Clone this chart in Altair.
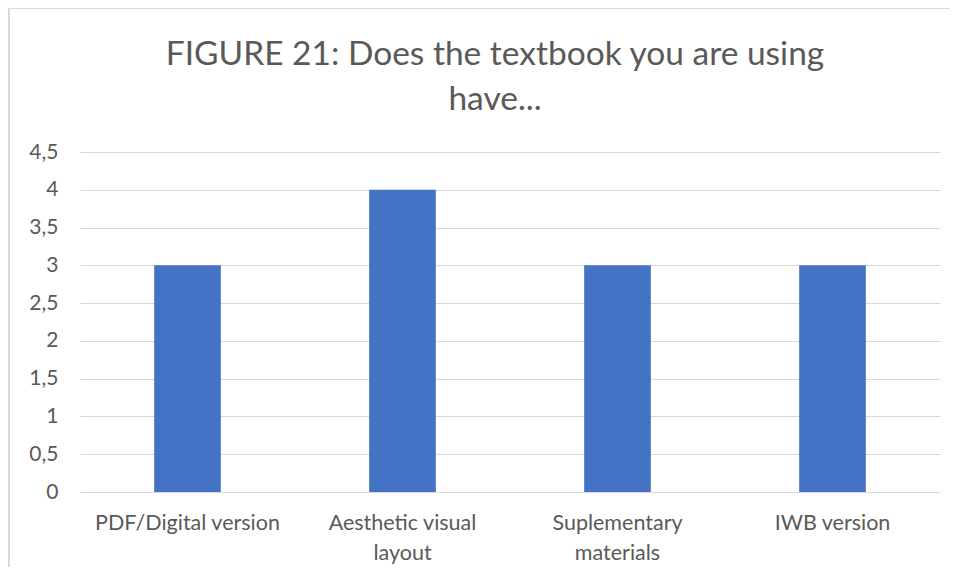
import altair as alt
import pandas as pd

categories = ["PDF/Digital version", "Aesthetic visual layout", "Suplementary materials", "IWB version"]
values = [3, 4, 3, 3]
label_lines = {
    "PDF/Digital version": ["PDF/Digital version"],
    "Aesthetic visual layout": ["Aesthetic visual", "layout"],
    "Suplementary materials": ["Suplementary", "materials"],
    "IWB version": ["IWB version"],
}
y_ticks = [0, 0.5, 1, 1.5, 2, 2.5, 3, 3.5, 4, 4.5]
title_lines = ["FIGURE 21: Does the textbook you are using", "have..."]

df = pd.DataFrame({"category": categories, "value": values})

parts = []
for k, v in label_lines.items():
    arr = "[" + ",".join("'" + s + "'" for s in v) + "]"
    parts.append(f"datum.label == '{k}' ? {arr} : ")
label_expr = "".join(parts) + "datum.label"

FONT = "Lato"
GREY = "#595959"

bars = alt.Chart(df).mark_bar(color="#4472C4").encode(
    x=alt.X("category:N", sort=categories, title=None,
            scale=alt.Scale(paddingInner=0.69, paddingOuter=0.345),
            axis=alt.Axis(labelAngle=0, labelExpr=label_expr, labelFontSize=21.5,
                          labelColor=GREY, labelFont=FONT, ticks=False, domain=False,
                          labelPadding=20, labelLineHeight=30, grid=False,
                          labelLimit=400)),
    y=alt.Y("value:Q", title=None,
            scale=alt.Scale(domain=[0, 4.5], nice=False),
            axis=alt.Axis(values=y_ticks,
                          labelExpr="replace(format(datum.value, '~g'), '.', ',')",
                          labelFontSize=21, labelColor=GREY, labelFont=FONT,
                          ticks=False, domain=False, labelPadding=22,
                          gridColor="#d9d9d9", gridWidth=1)),
)

border = alt.Chart(df).mark_rule(color="#d9d9d9", strokeWidth=2).encode(
    x=alt.value(-71), x2=alt.value(-71), y=alt.value(-144), y2=alt.value(420)
) + alt.Chart(df).mark_rule(color="#d9d9d9", strokeWidth=2).encode(
    x=alt.value(-71), x2=alt.value(880), y=alt.value(-144), y2=alt.value(-144)
)

chart = (border + bars).properties(
    width=860, height=340,
    autosize=alt.AutoSizeParams(type="none"),
    padding={"left": 72, "top": 144, "right": 10, "bottom": 75},
    title=alt.TitleParams(title_lines, font=FONT, fontSize=33.5, fontWeight="normal",
                          color=GREY, lineHeight=45, offset=0, dy=110, dx=-15,
                          anchor="middle"),
).configure(background="white").configure_view(stroke=None)

chart.save("out.html", embed_options={"renderer": "svg", "actions": False})
